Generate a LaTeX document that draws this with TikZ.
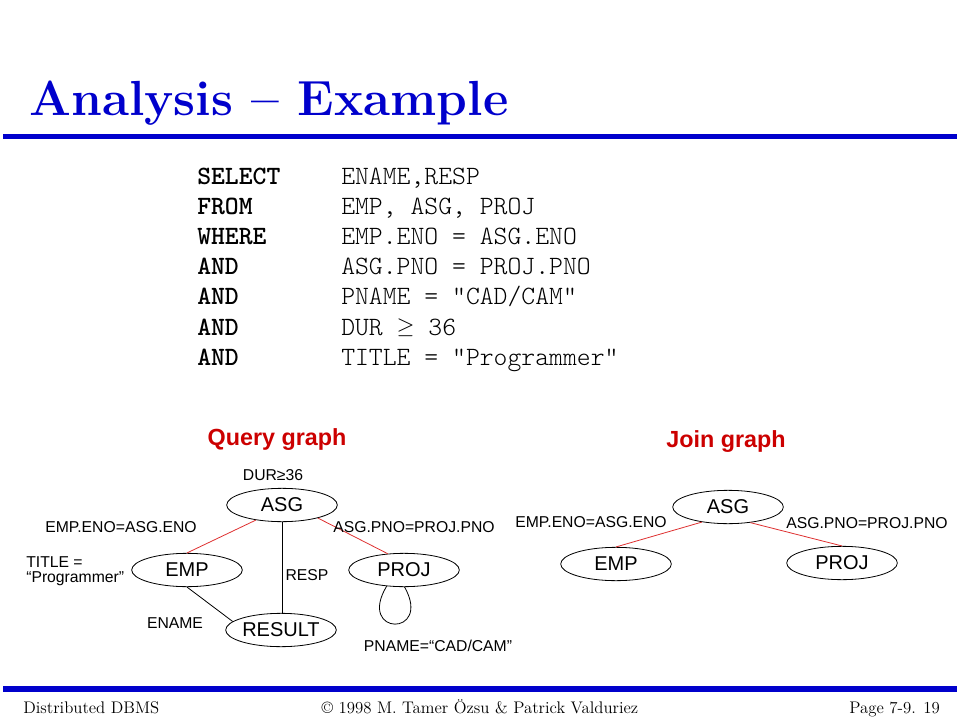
\documentclass[tikz,border=0pt]{standalone}
\usepackage{fontspec}
\usetikzlibrary{shapes.geometric}
\newfontfamily\arialfont{Liberation Sans}
\newfontfamily\courfont{lmmonolt10-regular.otf}[BoldFont=lmmonolt10-bold.otf]
\definecolor{slideblue}{RGB}{0,0,204}
\definecolor{headred}{RGB}{204,0,0}
\definecolor{edgered}{RGB}{222,48,48}
\begin{document}
\begin{tikzpicture}[x=0.75pt,y=-0.75pt,line join=round,
	rel/.style={ellipse,draw,line width=0.6pt,minimum width=83pt,minimum height=25pt,inner sep=0pt,font=\arialfont\fontsize{15}{18}\selectfont},
	lbl/.style={inner sep=0pt,anchor=base,font=\arialfont\fontsize{11.8}{14}\selectfont},
	head/.style={inner sep=0pt,anchor=base,text=headred,font=\arialfont\bfseries\fontsize{17.5}{20}\selectfont},
	kw/.style={inner sep=0pt,anchor=base west,font=\courfont\bfseries\fontsize{19.8}{22}\selectfont},
	cond/.style={inner sep=0pt,anchor=base west,font=\courfont\fontsize{19.8}{22}\selectfont},
	foot/.style={inner sep=0pt,anchor=base,font=\fontsize{12.6}{15}\selectfont},
	joinedge/.style={edgered,line width=0.6pt},
	plainedge/.style={black,line width=0.6pt}]
	\useasboundingbox (0,0) rectangle (960,720);
	%Tieu de va duong ke
	\node[inner sep=0pt,anchor=base west,text=slideblue,font=\bfseries\fontsize{37}{40}\selectfont] (title) at (29,116) {Analysis – Example};
	\draw[slideblue,line width=3.75pt] (3,136.5)--(957,136.5);
	%Cau truy van
	\foreach \kw/\cnd [count=\i from 0] in {SELECT/{ENAME,RESP},FROM/{EMP, ASG, PROJ},WHERE/{EMP.ENO = ASG.ENO},AND/{ASG.PNO = PROJ.PNO},AND/{PNAME = "CAD/CAM"},AND/{DUR \raisebox{1.5pt}{\fontsize{17}{19}\selectfont$\geq$} 36},AND/{TITLE = "Programmer"}}
	{\node[kw] (kw\i) at (197,185+30*\i) {\kw};
	 \node[cond] (cond\i) at (341,185+30*\i) {\cnd};}
	%Query graph
	\node[head] (qhead) at (277,445) {Query graph};
	\node[rel] (qasg) at (282,505) {ASG};
	\node[rel] (qemp) at (187,570) {EMP};
	\node[rel] (qproj) at (404,570) {PROJ};
	\node[rel] (qres) at (281,630) {RESULT};
	\draw[joinedge] (qasg.210)--(qemp.north);
	\draw[joinedge] (qasg.-20)--(qproj.135);
	\draw[plainedge] (qasg.south)--(qasg.south |- qres.north);
	\draw[plainedge] (qemp.south)--(qres.170);
	\draw[plainedge] (qproj.223) .. controls +(-30,50) and +(28,50) .. (qproj.272);
	\node[lbl] (dur) at (273,480.5) {DUR≥36};
	\node[lbl] (qcond1) at (121,532) {EMP.ENO=ASG.ENO};
	\node[lbl] (qcond2) at (414,532) {ASG.PNO=PROJ.PNO};
	\node[lbl,anchor=base west] (sel1) at (26,567) {TITLE =};
	\node[lbl,anchor=base west] (sel2) at (26,582) {“Programmer”};
	\node[lbl] (resp) at (307,580) {RESP};
	\node[lbl] (ename) at (175,628) {ENAME};
	\node[lbl] (pname) at (438,651) {PNAME=“CAD/CAM”};
	%Join graph
	\node[head] (jhead) at (726,447) {Join graph};
	\node[rel] (jasg) at (728,507) {ASG};
	\node[rel] (jemp) at (616,564) {EMP};
	\node[rel] (jproj) at (842,563) {PROJ};
	\draw[joinedge] (jasg.210)--(jemp.north);
	\draw[joinedge] (jasg.-35)--(jproj.north);
	\node[lbl] (jcond1) at (591,527) {EMP.ENO=ASG.ENO};
	\node[lbl] (jcond2) at (867,528) {ASG.PNO=PROJ.PNO};
	%Chan trang
	\draw[slideblue,line width=4.5pt] (3,688.5)--(957,688.5);
	\node[foot,anchor=base west] (f1) at (23,713) {Distributed DBMS};
	\node[foot] (f2) at (480,713) {© 1998 M. Tamer Özsu \& Patrick Valduriez};
	\node[foot,anchor=base east] (f3) at (940,713) {Page 7-9. 19};
\end{tikzpicture}
\end{document}
